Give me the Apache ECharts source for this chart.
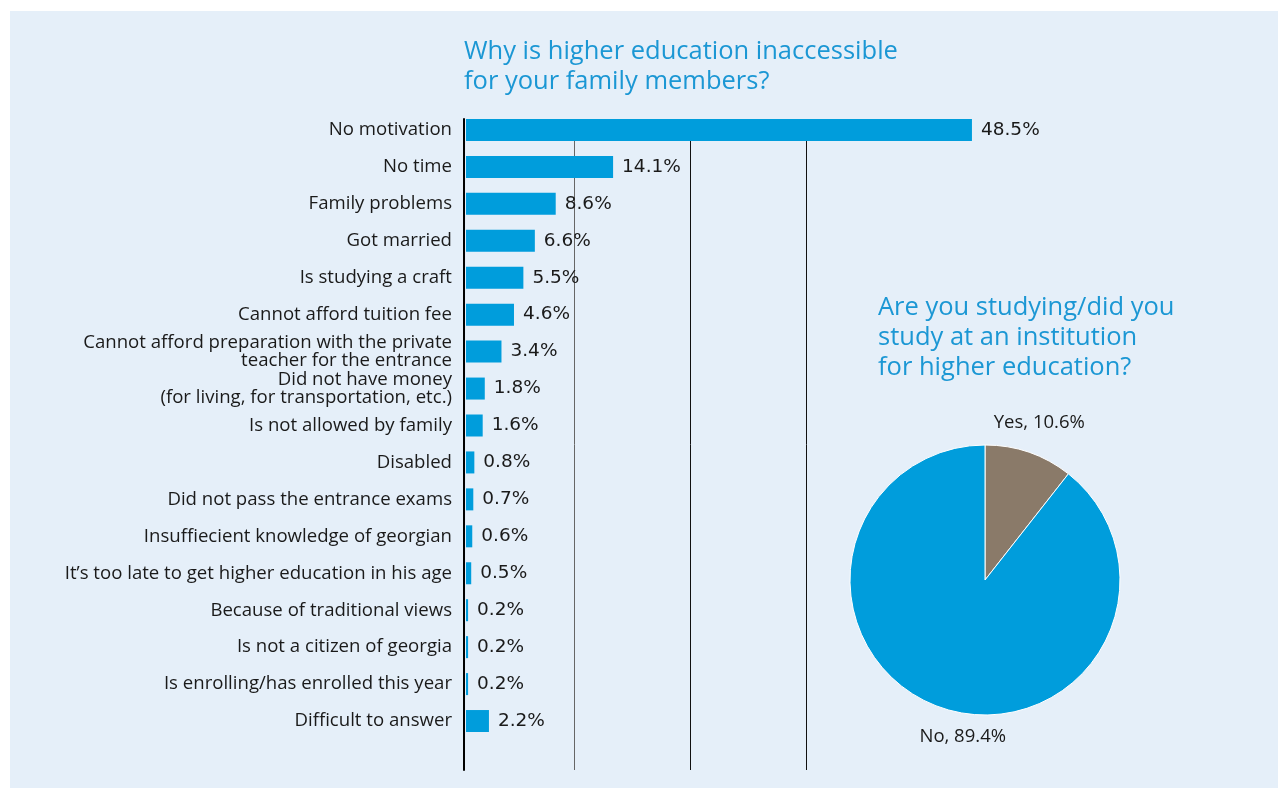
<!DOCTYPE html>
<html>
<head>
<meta charset="utf-8">
<script src="https://cdn.jsdelivr.net/npm/echarts@6/dist/echarts.min.js"></script>
<style>
  html, body { margin: 0; padding: 0; background: #ffffff; }
  #chart { width: 1284px; height: 789px; }
</style>
</head>
<body>
<div id="chart"></div>
<script>
// Reasons why higher education is inaccessible (share of respondents, %)
const reasons = [
  'No motivation',
  'No time',
  'Family problems',
  'Got married',
  'Is studying a craft',
  'Cannot afford tuition fee',
  'Cannot afford preparation with the private\nteacher for the entrance',
  'Did not have money\n(for living, for transportation, etc.)',
  'Is not allowed by family',
  'Disabled',
  'Did not pass the entrance exams',
  'Insuffiecient knowledge of georgian',
  'It’s too late to get higher education in his age',
  'Because of traditional views',
  'Is not a citizen of georgia',
  'Is enrolling/has enrolled this year',
  'Difficult to answer'
];
const reasonShares = [48.5, 14.1, 8.6, 6.6, 5.5, 4.6, 3.4, 1.8, 1.6, 0.8, 0.7, 0.6, 0.5, 0.2, 0.2, 0.2, 2.2];

// Vertical guide lines behind the bars (value positions on the % axis)
const guideValues = [10.5, 21.6, 32.7];
const guideColors = ['#666666', '#111111', '#111111'];

// Studying / studied at a higher education institution
const studyNames = ['Yes', 'No'];
const studyShares = [10.6, 89.4];

const BLUE = '#009ddc';
const BROWN = '#8a7a69';
const TITLE_BLUE = '#1b97d4';
const FONT = '"Open Sans", "Noto Sans", sans-serif';
const VALUE_FONT = '"DejaVu Sans", sans-serif';

const pieCenter = [985, 580];
const pieRadius = 135;
const labelNudge = [0, 32];

const chart = echarts.init(document.getElementById('chart'), null, { renderer: 'canvas' });

chart.setOption({
  animation: false,
  backgroundColor: '#ffffff',
  textStyle: { fontFamily: FONT },
  graphic: [{
    type: 'rect',
    z: -10,
    silent: true,
    shape: { x: 10, y: 11, width: 1268, height: 777 },
    style: { fill: '#e5eff9' }
  }],
  title: [
    {
      text: 'Why is higher education inaccessible\nfor your family members?',
      left: 464,
      top: 37,
      padding: 0,
      textStyle: { color: TITLE_BLUE, fontSize: 25.5, fontWeight: 'normal', lineHeight: 30, fontFamily: FONT }
    },
    {
      text: 'Are you studying/did you\nstudy at an institution\nfor higher education?',
      left: 878,
      top: 293,
      padding: 0,
      textStyle: { color: TITLE_BLUE, fontSize: 25.5, fontWeight: 'normal', lineHeight: 30, fontFamily: FONT }
    }
  ],
  grid: [
    { left: 466, top: 111.5, width: 521.6, height: 628, containLabel: false },
    { left: 464, top: 119, width: 523.5, bottom: 19, containLabel: false }
  ],
  xAxis: [
    { type: 'value', gridIndex: 0, min: 0, max: 50, show: false },
    { type: 'value', gridIndex: 1, min: 0, max: 50, show: false }
  ],
  yAxis: [
    {
      type: 'category',
      gridIndex: 0,
      data: reasons,
      inverse: true,
      axisLine: { show: false },
      axisTick: { show: false },
      splitLine: { show: false },
      axisLabel: {
        margin: 14,
        color: '#1a1a1a',
        fontSize: 18.6,
        lineHeight: 18,
        align: 'right',
        fontFamily: FONT
      }
    },
    {
      type: 'value',
      gridIndex: 1,
      min: 0,
      max: 1,
      z: 5,
      axisLine: { show: true, lineStyle: { color: '#000000', width: 2 } },
      axisTick: { show: false },
      axisLabel: { show: false },
      splitLine: { show: false }
    }
  ],
  series: [
    {
      type: 'line',
      xAxisIndex: 1,
      yAxisIndex: 1,
      z: 1,
      silent: true,
      data: [[0, 0]],
      symbol: 'none',
      lineStyle: { width: 0 },
      markLine: {
        silent: true,
        z: 1,
        symbol: 'none',
        label: { show: false },
        data: guideValues.map((v, i) => ({
          xAxis: v,
          lineStyle: { color: guideColors[i], width: 1, type: 'solid' }
        }))
      }
    },
    {
      type: 'bar',
      xAxisIndex: 0,
      yAxisIndex: 0,
      z: 2,
      data: reasonShares,
      barWidth: 22,
      itemStyle: { color: BLUE },
      label: {
        show: true,
        position: 'right',
        distance: 9,
        color: '#1a1a1a',
        fontSize: 18.5,
        fontFamily: VALUE_FONT,
        formatter: p => p.value + '%'
      }
    },
    {
      type: 'pie',
      center: pieCenter,
      radius: pieRadius,
      startAngle: 90,
      clockwise: true,
      data: studyNames.map((n, i) => ({
        name: n,
        value: studyShares[i],
        itemStyle: { color: i === 0 ? BROWN : BLUE }
      })),
      itemStyle: { borderColor: '#ffffff', borderWidth: 1 },
      label: {
        show: true,
        position: 'outside',
        color: '#1a1a1a',
        fontSize: 18.5,
        fontFamily: FONT,
        formatter: p => p.name + ', ' + p.value + '%'
      },
      labelLine: { show: false, length: 31, length2: 0 },
      labelLayout: function (params) {
        // centre each label on its slice's bisector, just outside the rim
        let acc = 0;
        const total = studyShares.reduce((a, b) => a + b, 0);
        for (let i = 0; i < params.dataIndex; i++) acc += studyShares[i];
        const mid = acc + studyShares[params.dataIndex] / 2;
        const ang = Math.PI / 2 - (mid / total) * Math.PI * 2;
        const r = pieRadius + 31;
        return {
          x: pieCenter[0] + Math.cos(ang) * r + labelNudge[params.dataIndex],
          y: pieCenter[1] - Math.sin(ang) * r,
          align: 'center',
          verticalAlign: 'middle'
        };
      }
    }
  ]
});
</script>
</body>
</html>
